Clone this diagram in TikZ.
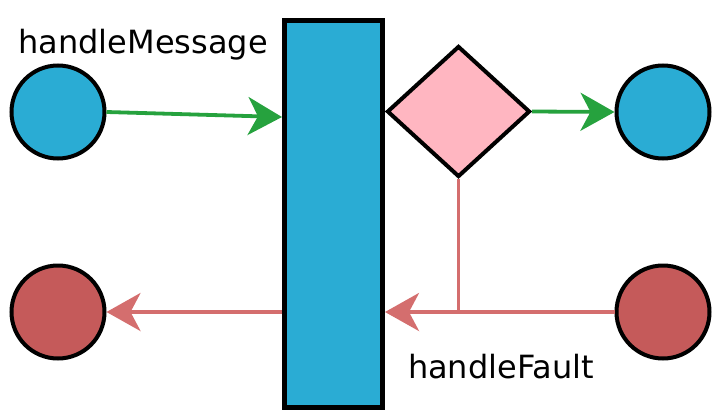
\documentclass[tikz,border=0pt]{standalone}
\usepackage{fontspec}
\setmainfont{DejaVu Sans}
\usepackage{xcolor}
\usetikzlibrary{arrows.meta,positioning,shapes.geometric}

\definecolor{portblue}{RGB}{42,172,212}
\definecolor{faultred}{RGB}{197,90,90}
\definecolor{faultline}{RGB}{212,110,110}
\definecolor{choicepink}{RGB}{255,182,193}
\definecolor{msggreen}{RGB}{38,162,62}

\begin{document}
\begin{tikzpicture}[
    x=0.5pt, y=-0.5pt,
    >={Stealth[length=17pt, width=19pt, inset=5pt]},
    port/.style={draw, circle, line width=2pt, minimum size=46.5pt, inner sep=0pt},
    msgport/.style={port, fill=portblue},
    faultport/.style={port, fill=faultred},
    hubbox/.style={draw, rectangle, fill=portblue, line width=2.5pt, minimum width=49pt, minimum height=193.5pt, inner sep=0pt},
    choice/.style={draw, diamond, fill=choicepink, line width=2pt, minimum width=71.5pt, minimum height=65.5pt, inner sep=0pt},
    msgline/.style={->, draw=msggreen, fill=msggreen, line width=1.9pt},
    faultflow/.style={draw=faultline, line width=1.9pt},
    label/.style={font=\fontsize{16}{19}\selectfont, anchor=base}
]
\useasboundingbox (0,0) rectangle (712,412);

% Ports and the central block.
\node[msgport] (msgIn) at (58,112) {};
\node[msgport] (msgOut) at (663,112) {};
\node[faultport] (faultOut) at (58,312) {};
\node[faultport] (faultIn) at (663,312) {};
\node[hubbox] (hub) at (333.5,214) {};
\node[choice] (decide) at (458.5,111.5) {};

% Labels.
\node[label] (msgLabel) at (143,53) {handleMessage};
\node[label] (faultLabel) at (501,378) {handleFault};

% Message path.
\draw[msgline] (msgIn.east) -- ([yshift=-2.5pt]msgIn -| hub.west);
\draw[msgline] (decide.east) -- (msgOut.west);

% Fault path.
\coordinate (split) at (decide.south |- faultIn);
\draw[faultflow] (decide.south) -- (split);
\draw[faultflow, ->, fill=faultline] (faultIn.west) -- (faultIn -| hub.east);
\draw[faultflow, ->, fill=faultline] (faultOut -| hub.west) -- (faultOut.east);

\end{tikzpicture}
\end{document}
